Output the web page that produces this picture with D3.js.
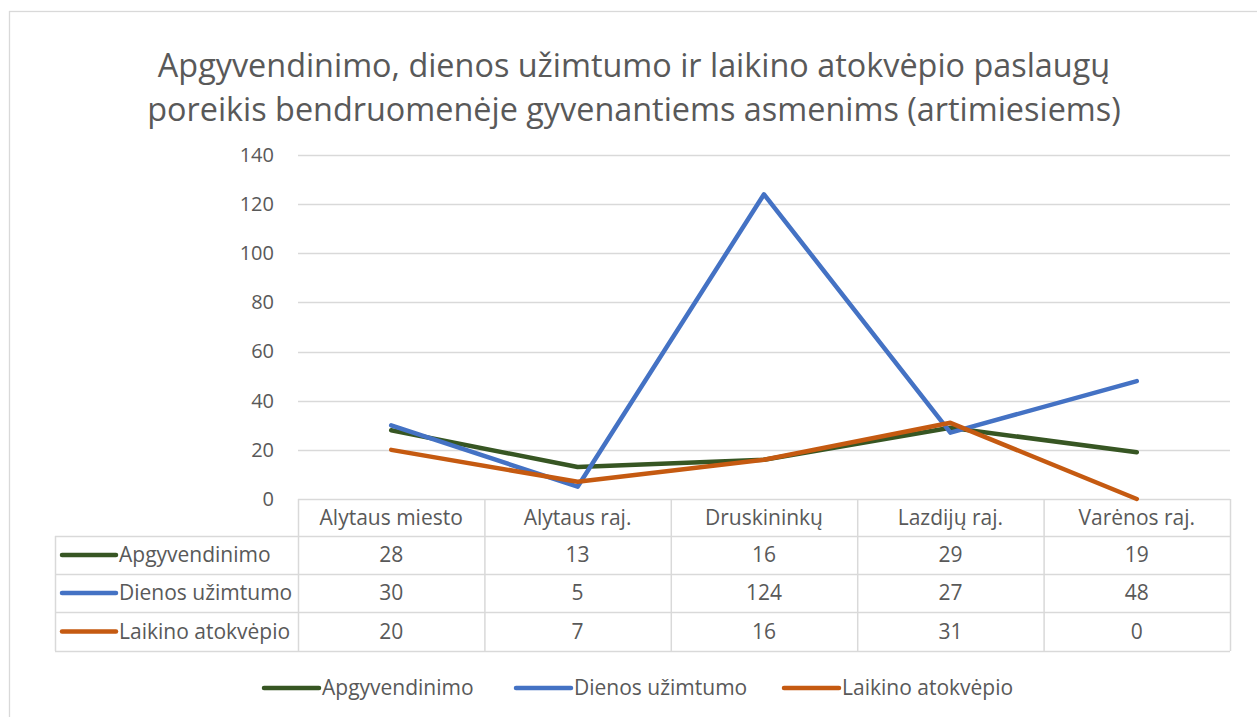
<!DOCTYPE html>
<html><head><meta charset="utf-8">
<script src="https://cdn.jsdelivr.net/npm/d3@7"></script>
<style>
html,body{margin:0;padding:0;background:#fff;overflow:hidden}
text{font-family:"Open Sans",Lato,sans-serif;fill:#595959}
</style></head>
<body><svg id="c" width="1257" height="717"></svg>
<script>
const titleLines = ["Apgyvendinimo, dienos užimtumo ir laikino atokvėpio paslaugų",
                    "poreikis bendruomenėje gyvenantiems asmenims (artimiesiems)"];
const categories = ["Alytaus miesto","Alytaus raj.","Druskininkų","Lazdijų raj.","Varėnos raj."];
const seriesNames = ["Apgyvendinimo","Dienos užimtumo","Laikino atokvėpio"];
const apgyvendinimo = [28,13,16,29,19];
const dienosUzimtumo = [30,5,124,27,48];
const laikinoAtokvepio = [20,7,16,31,0];
const yTicks = [0,20,40,60,80,100,120,140];
const colors = ["#375623","#4472C4","#C55A11"];

const series = seriesNames.map((n,i)=>({name:n,color:colors[i],values:[apgyvendinimo,dienosUzimtumo,laikinoAtokvepio][i]}));

const svg = d3.select("#c");
svg.append("rect").attr("x",9.5).attr("y",11.5).attr("width",1300).attr("height",800)
  .attr("fill","#fff").attr("stroke","#d9d9d9").attr("stroke-width",1.3);

const title = svg.append("text").attr("text-anchor","middle").style("font-size","31px");
titleLines.forEach((t,i)=>title.append("tspan").attr("x",634).attr("y",77+i*44).text(t));
title.selectAll("tspan").each(function(){
  const w = this.getComputedTextLength();
  const target = 953;
  if (this.textContent.startsWith("Apgyvend")) d3.select(this.parentNode).style("font-size",(31*target/w)+"px");
});

const x = d3.scaleBand().domain(categories).range([298,1230]);
const y = d3.scaleLinear().domain([0,140]).range([499,155]);

svg.append("g").selectAll("line").data(yTicks.filter(d=>d>0)).join("line")
  .attr("x1",298).attr("x2",1230).attr("y1",d=>Math.round(y(d))+0.5).attr("y2",d=>Math.round(y(d))+0.5)
  .attr("stroke","#d9d9d9").attr("stroke-width",1.3);

const yAxis = d3.axisLeft(y).tickValues(yTicks).tickSize(0).tickPadding(24);
const yg = svg.append("g").attr("transform","translate(298,0)").call(yAxis);
yg.select(".domain").remove();
yg.selectAll("text").style("font-size","20px").attr("fill","#595959").attr("font-family",null);

const colLeft = 55, rowTops=[499,536,574,612,651];
const tg = svg.append("g");
const gridC = "#d9d9d9";
tg.append("line").attr("x1",298).attr("x2",1230).attr("y1",499.5).attr("y2",499.5).attr("stroke",gridC).attr("stroke-width",1.5);
[1,2,3,4].forEach(i=>tg.append("line").attr("x1",colLeft).attr("x2",1230).attr("y1",rowTops[i]+0.5).attr("y2",rowTops[i]+0.5).attr("stroke",gridC).attr("stroke-width",1.5));
tg.append("line").attr("x1",colLeft+0.5).attr("x2",colLeft+0.5).attr("y1",536).attr("y2",651).attr("stroke",gridC).attr("stroke-width",1.5);
const xEdges = categories.map(c=>x(c)).concat([x.range()[1]]);
xEdges.forEach(e=>tg.append("line").attr("x1",e+0.5).attr("x2",e+0.5).attr("y1",499).attr("y2",651).attr("stroke",gridC).attr("stroke-width",1.5));

const fs = "21px";
tg.selectAll("text.cat").data(categories).join("text").attr("class","cat")
  .attr("x",d=>x(d)+x.bandwidth()/2).attr("y",(rowTops[0]+rowTops[1])/2).attr("dy","0.35em")
  .attr("text-anchor","middle").style("font-size",fs).text(d=>d);

series.forEach((s,i)=>{
  const yc = (rowTops[i+1]+rowTops[i+2])/2;
  tg.append("line").attr("x1",62).attr("x2",116).attr("y1",yc).attr("y2",yc)
    .attr("stroke",s.color).attr("stroke-width",4.5).attr("stroke-linecap","round");
  tg.append("text").attr("x",119).attr("y",yc).attr("dy","0.35em").style("font-size",fs).text(s.name);
  tg.selectAll(null).data(s.values).join("text")
    .attr("x",(d,j)=>x(categories[j])+x.bandwidth()/2).attr("y",yc).attr("dy","0.35em")
    .attr("text-anchor","middle").style("font-size",fs).text(d=>d);
});

const line = d3.line().x((d,i)=>x(categories[i])+x.bandwidth()/2).y(d=>y(d));
series.forEach(s=>{
  svg.append("path").datum(s.values).attr("d",line).attr("fill","none")
    .attr("stroke",s.color).attr("stroke-width",4.5).attr("stroke-linejoin","round").attr("stroke-linecap","round");
});

const legX = [264,516,784];
series.forEach((s,i)=>{
  svg.append("line").attr("x1",legX[i]).attr("x2",legX[i]+55).attr("y1",688).attr("y2",688)
    .attr("stroke",s.color).attr("stroke-width",4.5).attr("stroke-linecap","round");
  svg.append("text").attr("x",legX[i]+58).attr("y",688).attr("dy","0.35em").style("font-size",fs).text(s.name);
});
</script></body></html>
